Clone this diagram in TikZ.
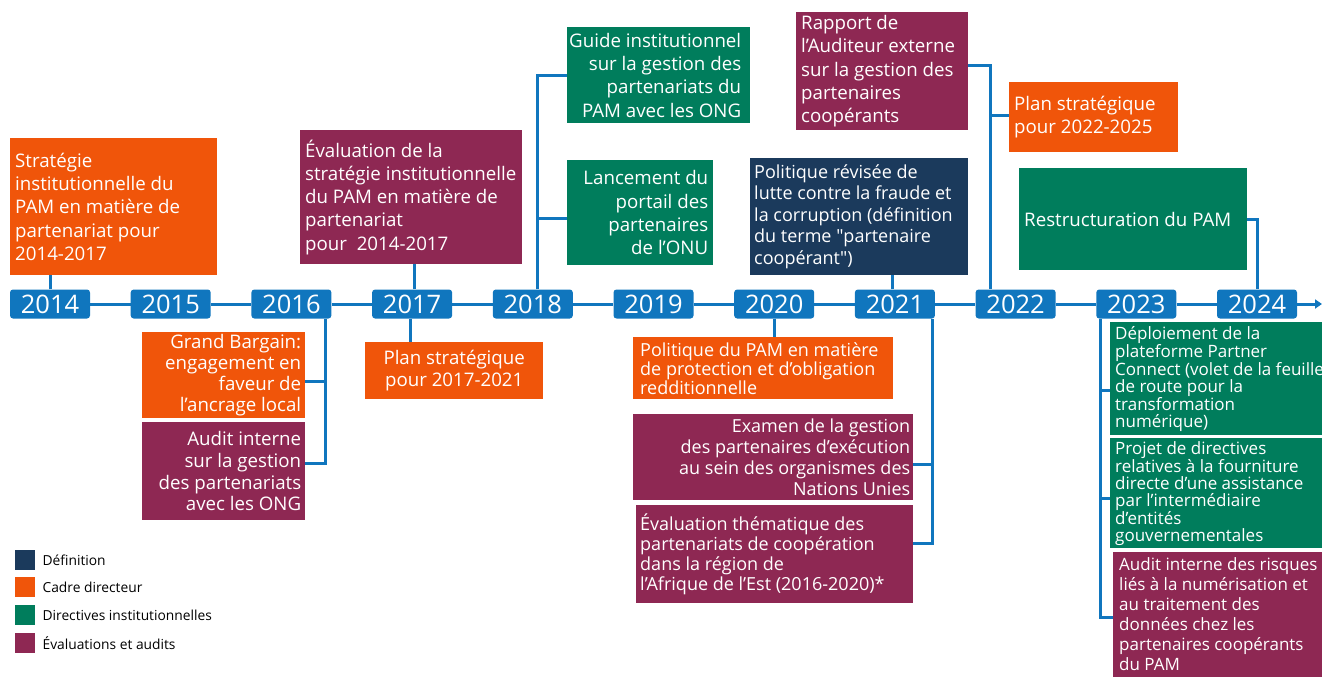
\documentclass[tikz,border=0pt]{standalone}
\usepackage{fontspec}
\setmainfont{Open Sans}
\usetikzlibrary{arrows.meta,calc}
\definecolor{cOr}{RGB}{240,85,10}
\definecolor{cPu}{RGB}{142,40,83}
\definecolor{cGr}{RGB}{0,125,92}
\definecolor{cNa}{RGB}{27,58,92}
\definecolor{cBl}{RGB}{16,118,190}
\tikzset{
  yr/.style={fill=cBl, rounded corners=3pt, minimum width=80pt, minimum height=29pt, inner sep=0pt, text=white, font=\fontsize{25.5}{25.5}\selectfont},
  bx/.style={fill=#1, inner sep=0pt, anchor=north west},
  tl/.style={inner sep=0pt, text=white, align=left, anchor=west},
  tr/.style={inner sep=0pt, text=white, align=right, anchor=east},
  tc/.style={inner sep=0pt, text=white, align=center},
  conn/.style={draw=cBl, line width=3pt},
  fA/.style={font=\fontsize{18.7}{23.3}\selectfont},
  fB/.style={font=\fontsize{18}{21.5}\selectfont},
  fC/.style={font=\fontsize{17}{17}\selectfont},
  lg/.style={inner sep=0pt, minimum size=20pt, anchor=north west},
  lgt/.style={inner sep=0pt, anchor=west, font=\fontsize{13.8}{15}\selectfont},
}
\newcommand\mybox[6]{\node[bx=#2, minimum width=#5pt, minimum height=#6pt] (#1) at (#3,#4) {};}
\begin{document}
\begin{tikzpicture}[x=1pt,y=-1pt]
\useasboundingbox (0,0) rectangle (1322,677);
% year boxes
\foreach \yy [count=\i from 0] in {2014,2015,2016,2017,2018,2019,2020,2021,2022,2023,2024}{
  \node[yr] (y\yy) at ({50+120.7*\i},304) {\yy};
}
\foreach \a/\b in {2014/2015,2015/2016,2016/2017,2017/2018,2018/2019,2019/2020,2020/2021,2021/2022,2022/2023,2023/2024}{
  \draw[conn] (y\a.east) -- (y\b.west);
}
\coordinate (aend) at (1322,304);
\draw[conn,-{Triangle[length=7pt,width=9pt]}] (y2024.east) -- (aend);

% upper boxes
\mybox{s14}{cOr}{10}{138}{207}{137}
\node[tl,fA] (s14t) at ([xshift=5pt]s14.west) {Stratégie\\institutionnelle du\\PAM en matière de\\partenariat pour\\2014-2017};
\mybox{ev17}{cPu}{300}{130}{222}{134}
\node[tl,fA] (ev17t) at ([xshift=5pt]ev17.west) {Évaluation de la\\stratégie institutionnelle\\du PAM en matière de\\partenariat\\pour\ \ 2014-2017};
\mybox{guide}{cGr}{567}{27}{183}{96}
\node[tr,fA] (guidet) at ([xshift=-9pt]guide.east) {Guide institutionnel\\sur la gestion des\\partenariats du\\PAM avec les ONG};
\mybox{lanc}{cGr}{567}{160}{146}{105}
\node[tr,fA] (lanct) at ([xshift=-5pt]lanc.east) {Lancement du\\portail des\\partenaires\\de l’ONU};
\mybox{rap}{cPu}{796}{12}{172}{118}
\node[tl,fA] (rapt) at ([xshift=5pt]rap.west) {Rapport de\\l’Auditeur externe\\sur la gestion des\\partenaires\\coopérants};
\mybox{polr}{cNa}{750}{158}{218}{117}
\node[tl,fB] (polrt) at ([xshift=4pt]polr.west) {Politique révisée de\\lutte contre la fraude et\\la corruption (définition\\du terme \textquotedbl partenaire\\coopérant\textquotedbl)};
\mybox{plan22}{cOr}{1009}{82}{169}{70}
\node[tl,fA] (plan22t) at ([xshift=5pt]plan22.west) {Plan stratégique\\pour 2022-2025};
\mybox{restr}{cGr}{1019}{168}{228}{102}
\node[tl,fA] (restrt) at ([xshift=5pt]restr.west) {Restructuration du PAM};

% lower boxes
\mybox{gb}{cOr}{142}{332}{163}{86}
\node[tr,font=\fontsize{18.7}{21}\selectfont] (gbt) at ([xshift=-4pt]gb.east) {Grand Bargain:\\engagement en\\faveur de\\l’ancrage local};
\mybox{au16}{cPu}{142}{422}{163}{98}
\node[tr,font=\fontsize{18.7}{21.7}\selectfont] (au16t) at ([xshift=-4pt]au16.east) {Audit interne\\sur la gestion\\des partenariats\\avec les ONG};
\mybox{plan17}{cOr}{365}{342}{178}{57}
\node[tc,font=\fontsize{18.7}{22}\selectfont] (plan17t) at (plan17.center) {Plan stratégique\\pour 2017-2021};
\mybox{polp}{cOr}{633}{337}{260}{62}
\node[tl,font=\fontsize{18}{19}\selectfont] (polpt) at ([xshift=7pt]polp.west) {Politique du PAM en matière\\de protection et d’obligation\\redditionnelle};
\mybox{exam}{cPu}{633}{414}{280}{86}
\node[tr,font=\fontsize{18}{21}\selectfont] (examt) at ([xshift=-3pt]exam.east) {Examen de la gestion\\des partenaires d’exécution\\au sein des organismes des\\Nations Unies};
\mybox{evt}{cPu}{636}{505}{277}{98}
\node[tl,font=\fontsize{18}{20}\selectfont] (evtt) at ([xshift=4pt]evt.west) {Évaluation thématique des\\partenariats de coopération\\dans la région de\\l’Afrique de l’Est (2016-2020)*};
\mybox{dep}{cGr}{1110}{322}{212}{113}
\node[tl,fC] (dept) at ([xshift=5pt]dep.west) {Déploiement de la\\plateforme Partner\\Connect (volet de la feuille\\de route pour la\\transformation\\numérique)};
\mybox{proj}{cGr}{1110}{438}{212}{110}
\node[tl,fC] (projt) at ([xshift=5pt]proj.west) {Projet de directives\\relatives à la fourniture\\directe d’une assistance\\par l’intermédiaire\\d’entités\\gouvernementales};
\mybox{aud}{cPu}{1113}{552}{209}{125}
\node[inner sep=0pt, text=white, align=left, anchor=north west, font=\fontsize{17}{20}\selectfont] (audt) at (1119,557) {Audit interne des risques\\liés à la numérisation et\\au traitement des\\données chez les\\partenaires coopérants\\du PAM};

% connectors
\draw[conn] (y2014.north) -- (y2014.north |- s14.south);
\draw[conn] ([xshift=2pt]y2017.north) -- ([xshift=2pt]y2017.north |- ev17.south);
\coordinate (k18) at (537,0);
\draw[conn] (k18 |- y2018.north) |- (guide.west);
\draw[conn] ([yshift=-6pt]k18 |- lanc.west) -- ([yshift=-6pt]lanc.west);
\coordinate (k22) at (990,0);
\draw[conn] ([yshift=6pt]rap.east) -| (k22 |- y2022.north);
\draw[conn] ([yshift=2pt]k22 |- plan22.west) -- ([yshift=2pt]plan22.west);
\draw[conn] (restr.east) -| (y2024.north);
\draw[conn] ([xshift=-2pt]y2021.north) -- ([xshift=-2pt]y2021.north |- polr.south);
\coordinate (k16) at (325,0);
\draw[conn] (k16 |- y2016.south) |- ([yshift=8pt]au16.east);
\draw[conn] ([yshift=-6pt]k16 |- gb.east) -- ([yshift=-6pt]gb.east);
\draw[conn] ([xshift=-2pt]y2017.south) -- ([xshift=-2pt]y2017.south |- plan17.north);
\draw[conn] (y2020.south) -- (y2020.south |- polp.north);
\coordinate (k21) at (932,0);
\draw[conn] (k21 |- y2021.south) |- ([yshift=11pt]evt.east);
\draw[conn] ([yshift=-7pt]k21 |- exam.east) -- ([yshift=-7pt]exam.east);
\coordinate (k23) at (1100,0);
\draw[conn] (k23 |- y2023.south) |- ([yshift=-3pt]aud.west);
\draw[conn] ([yshift=-12pt]k23 |- dep.west) -- ([yshift=-12pt]dep.west);
\draw[conn] ([yshift=-5pt]k23 |- proj.west) -- ([yshift=-5pt]proj.west);

% legend
\node[lg,fill=cNa] (l1) at (15,550) {};
\node[lg,fill=cOr] (l2) at (15,577) {};
\node[lg,fill=cGr] (l3) at (15,605) {};
\node[lg,fill=cPu] (l4) at (15,633) {};
\node[lgt] (l1t) at ([xshift=7pt]l1.east) {Définition};
\node[lgt] (l2t) at ([xshift=7pt]l2.east) {Cadre directeur};
\node[lgt] (l3t) at ([xshift=7pt]l3.east) {Directives institutionnelles};
\node[lgt] (l4t) at ([xshift=7pt]l4.east) {Évaluations et audits};
\end{tikzpicture}
\end{document}
